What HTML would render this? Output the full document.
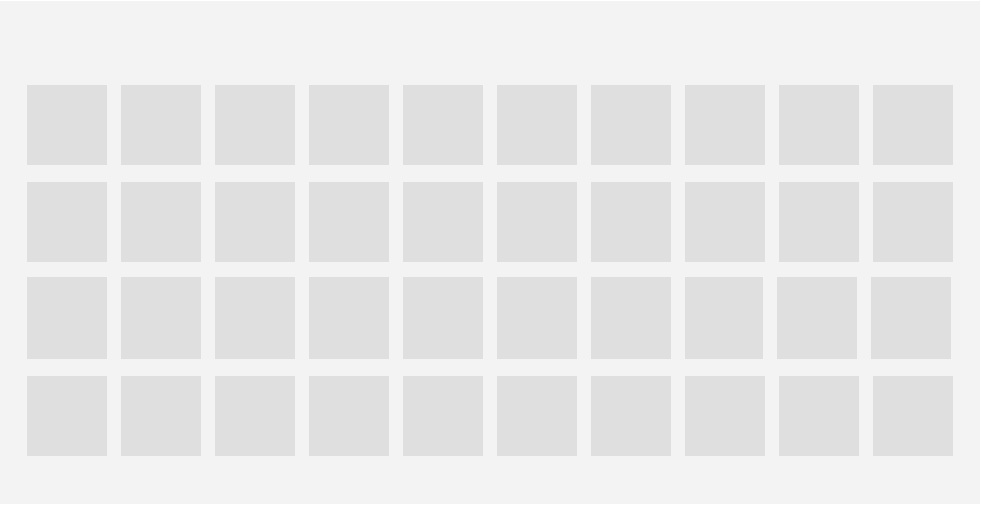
<!DOCTYPE html>
<html><head><meta charset="utf-8"><style>
html,body{margin:0;padding:0;background:#fff;}
#panel{position:absolute;left:0;top:1px;width:980px;height:503px;background:#f3f3f3;overflow:hidden;}
.cell{position:absolute;background:#dfdfdf;}
</style></head><body>
<div id="panel"></div>
<script>
const rowTops=[85,182,277,376];
const rowHeights=[80,80,82,80];
const colLefts=[27,121,215,309,403,497,591,685,779,873];
const row3Lefts=[27,121,215,309,403,497,591,685,777,871];
const row3Widths=[80,80,80,80,80,80,80,78,80,80];
const panel=document.getElementById('panel');
for(let r=0;r<rowTops.length;r++){
  for(let c=0;c<colLefts.length;c++){
    const el=document.createElement('div');
    el.className='cell';
    
    
    const left=r===2?row3Lefts[c]:colLefts[c];
    const w=r===2?row3Widths[c]:80;
    el.style.left=left+'px';
    el.style.top=(rowTops[r]-1)+'px';
    el.style.width=w+'px';
    el.style.height=rowHeights[r]+'px';
    panel.appendChild(el);
  }
}
</script>
</body></html>
